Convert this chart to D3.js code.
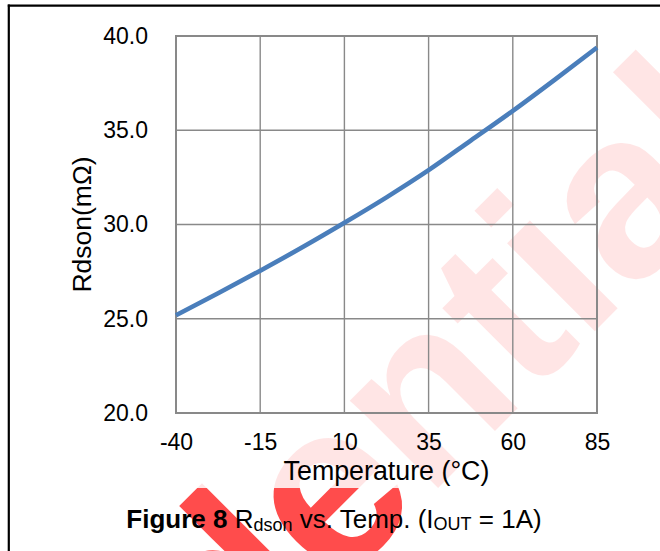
<!DOCTYPE html>
<html>
<head>
<meta charset="utf-8">
<script src="https://cdn.jsdelivr.net/npm/d3@7"></script>
<style>
  body { margin: 0; background: #fff; }
  text { font-family: "Liberation Sans", Arial, sans-serif; }
</style>
</head>
<body>
<div id="chart"></div>
<script>
// data
var temps = [-40, -27.5, -15, -2.5, 10, 22.5, 35, 47.5, 60, 72.5, 85];
var rdson = [25.19, 26.35, 27.55, 28.79, 30.09, 31.44, 32.88, 34.45, 36.03, 37.69, 39.39];
var xTicks = [-40, -15, 10, 35, 60, 85];
var yTicks = [20, 25, 30, 35, 40];

const W = 660, H = 551;
const margin = { top: 36, right: 63, bottom: 138, left: 176 },
  width = W - margin.left - margin.right,
  height = H - margin.top - margin.bottom;

var svg = d3.select("#chart")
  .append("svg")
  .attr("width", W)
  .attr("height", H);

svg.append("rect").attr("width", W).attr("height", H).attr("fill", "#fff");

// watermark, then a translucent white sheet over the chart image part
svg.append("text")
  .attr("transform", "translate(-192,1118) rotate(-45)")
  .attr("font-size", 235)
  .attr("font-weight", "bold")
  .attr("fill", "#ff0000")
  .attr("fill-opacity", 0.7)
  .text("Confidential");

svg.append("rect")
  .attr("x", 10).attr("y", 7)
  .attr("width", W - 10).attr("height", 481)
  .attr("fill", "#fff")
  .attr("fill-opacity", 0.86);

// table cell border
svg.append("line").attr("x1", 7.8).attr("x2", W).attr("y1", 5.7).attr("y2", 5.7)
  .attr("stroke", "#000").attr("stroke-width", 2.2);
svg.append("line").attr("x1", 8.8).attr("x2", 8.8).attr("y1", 4.6).attr("y2", H)
  .attr("stroke", "#000").attr("stroke-width", 2.2);

var g = svg.append("g")
  .attr("transform", "translate(" + margin.left + "," + margin.top + ")");

const x = d3.scaleLinear().domain([-40, 85]).range([0, width]);
const y = d3.scaleLinear().domain([20, 40]).range([height, 0]);

// grid
g.append("g")
  .selectAll("line.v")
  .data(xTicks)
  .join("line")
  .attr("x1", d => x(d)).attr("x2", d => x(d))
  .attr("y1", 0).attr("y2", height)
  .attr("stroke", "#898989").attr("stroke-width", 1.4);
g.append("g")
  .selectAll("line.h")
  .data(yTicks)
  .join("line")
  .attr("x1", 0).attr("x2", width)
  .attr("y1", d => y(d)).attr("y2", d => y(d))
  .attr("stroke", "#898989").attr("stroke-width", 1.4);
g.append("rect")
  .attr("width", width).attr("height", height)
  .attr("fill", "none").attr("stroke", "#898989").attr("stroke-width", 2);

// axes (labels only), plain hyphen for negatives like the original
var xAxis = g.append("g")
  .attr("transform", "translate(0," + height + ")")
  .call(d3.axisBottom(x).tickValues(xTicks).tickSize(0).tickPadding(21).tickFormat(d => String(d)));
var yAxis = g.append("g")
  .call(d3.axisLeft(y).tickValues(yTicks).tickSize(0).tickPadding(28).tickFormat(d => d.toFixed(1)));
[xAxis, yAxis].forEach(function (a) {
  a.select(".domain").remove();
  a.selectAll("text")
    .attr("font-family", "'Liberation Sans', Arial, sans-serif")
    .attr("font-size", 23)
    .attr("fill", "#000");
});

// the curve
g.append("path")
  .datum(temps.map((t, i) => ({ t: t, r: rdson[i] })))
  .attr("fill", "none")
  .attr("stroke", "#4a7ebb")
  .attr("stroke-width", 4.6)
  .attr("d", d3.line()
    .curve(d3.curveMonotoneX)
    .x(d => x(d.t))
    .y(d => y(d.r))
  );

// axis titles
svg.append("text")
  .attr("x", margin.left + width / 2).attr("y", 480)
  .attr("text-anchor", "middle")
  .attr("font-size", 26.8)
  .text("Temperature (°C)");
svg.append("text")
  .attr("transform", "translate(91," + (margin.top + height / 2) + ") rotate(-90)")
  .attr("text-anchor", "middle")
  .attr("font-size", 26.5)
  .text("Rdson(mΩ)");

// caption
var cap = svg.append("text")
  .attr("x", 334).attr("y", 528)
  .attr("text-anchor", "middle")
  .attr("font-size", 26);
cap.append("tspan").attr("font-weight", "bold").text("Figure 8 ");
cap.append("tspan").text("R");
cap.append("tspan").attr("font-size", 18).attr("dy", 3).text("dson");
cap.append("tspan").attr("dy", -3).text(" vs. Temp. (I");
cap.append("tspan").attr("font-size", 18).attr("dy", 2).text("OUT");
cap.append("tspan").attr("dy", -2).text(" = 1A)");
</script>
</body>
</html>
